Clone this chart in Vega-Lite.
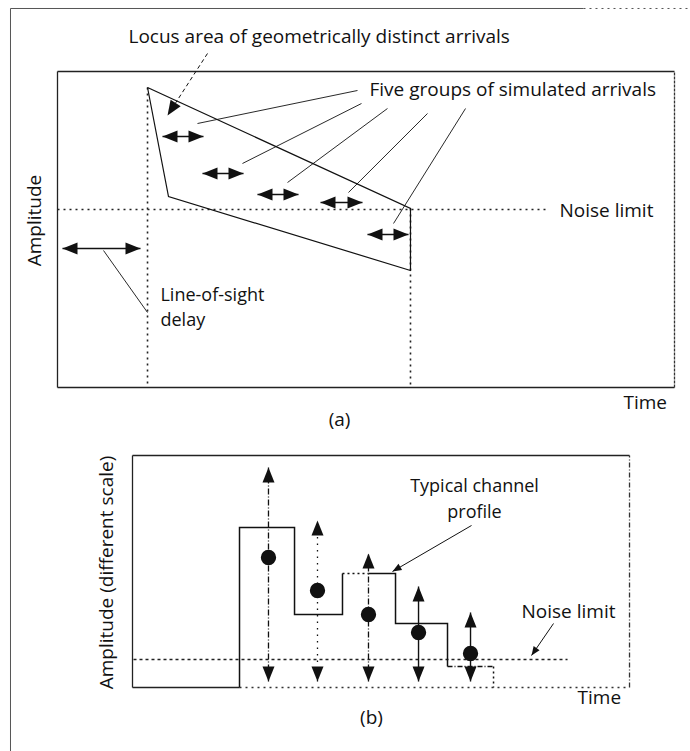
{
  "$schema": "https://vega.github.io/schema/vega-lite/v6.json",
  "padding": {"left": 9.5, "top": 7.5, "right": 0, "bottom": 0},
  "autosize": {"type": "pad"},
  "bounds": "flush",
  "spacing": 68,
  "config": {
    "view": {"stroke": null},
    "text": {"font": "Open Sans", "fontSize": 19, "color": "#111"}
  },
  "datasets": {
    "a_page": [
      {"t": -7.62, "a": 119.94, "t2": -7.62, "a2": -115.2},
      {"t": -7.62, "a": 119.94, "t2": 85.25, "a2": 119.94}
    ],
    "a_page_dotted": [{"t": 85.25, "a": 119.94, "t2": 102.59, "a2": 119.94}],
    "a_frame": [
      {"t": 0, "a": 0, "t2": 0, "a2": 100},
      {"t": 0, "a": 100, "t2": 100, "a2": 100},
      {"t": 0, "a": 0, "t2": 100, "a2": 0}
    ],
    "a_frame_dashed": [{"t": 100, "a": 0, "t2": 100, "a2": 100}],
    "a_guides": [
      {"t": 14.59, "a": 94.94, "t2": 14.59, "a2": 0},
      {"t": 57.21, "a": 56.65, "t2": 57.21, "a2": 0},
      {"t": 0, "a": 56.33, "t2": 79.58, "a2": 56.33}
    ],
    "a_locus": [
      {"i": 1, "t": 14.59, "a": 94.94},
      {"i": 2, "t": 17.99, "a": 60.44},
      {"i": 3, "t": 57.21, "a": 37.03},
      {"i": 4, "t": 57.21, "a": 56.65},
      {"i": 5, "t": 14.59, "a": 94.94}
    ],
    "a_arrows": [
      {"group": "line-of-sight", "t": 0.81, "t2": 13.45, "a": 43.99},
      {"group": "1", "t": 17.02, "t2": 23.66, "a": 79.43},
      {"group": "2", "t": 23.5, "t2": 30.15, "a": 67.72},
      {"group": "3", "t": 32.41, "t2": 39.06, "a": 61.08},
      {"group": "4", "t": 42.63, "t2": 49.43, "a": 58.54},
      {"group": "5", "t": 50.24, "t2": 56.89, "a": 48.42}
    ],
    "a_leaders": [
      {"t": 22.69, "a": 83.54, "t2": 48.62, "a2": 93.99},
      {"t": 29.98, "a": 70.89, "t2": 49.27, "a2": 89.87},
      {"t": 37.28, "a": 64.87, "t2": 53.48, "a2": 88.29},
      {"t": 47.16, "a": 61.71, "t2": 59.97, "a2": 86.71},
      {"t": 54.46, "a": 51.9, "t2": 66.13, "a2": 88.29},
      {"t": 7.46, "a": 43.35, "t2": 14.59, "a2": 23.73}
    ],
    "a_locus_leader": [{"t": 24.31, "a": 105.7, "t2": 19.14, "a2": 90.06}],
    "a_locus_head": [{"t": 17.83, "a": 86.08}],
    "a_notes": [
      {"label": "Locus area of geometrically distinct arrivals", "t": 11.51, "a": 110.76},
      {"label": "Five groups of simulated arrivals", "t": 50.57, "a": 93.99},
      {"label": "Noise limit", "t": 81.36, "a": 56.01},
      {"label": "Time", "t": 91.73, "a": -5.06}
    ],
    "a_notes_small": [
      {"label": "Line-of-sight", "t": 16.69, "a": 28.96},
      {"label": "delay", "t": 16.69, "a": 21.04}
    ],
    "b_frame": [
      {"t": 0, "a": 0, "t2": 0, "a2": 100},
      {"t": 0, "a": 100, "t2": 100, "a2": 100},
      {"t": 0, "a": 0, "t2": 21.53, "a2": 0}
    ],
    "b_frame_dashed": [{"t": 100, "a": 0, "t2": 100, "a2": 100}],
    "b_frame_dotted": [{"t": 21.53, "a": 0, "t2": 100, "a2": 0}],
    "b_noise": [{"t": 0.2, "a": 12.07, "t2": 87.53, "a2": 12.07}],
    "b_profile": [
      {"seg": 1, "i": 1, "t": 21.53, "a": 0},
      {"seg": 1, "i": 2, "t": 21.53, "a": 68.97},
      {"seg": 1, "i": 3, "t": 32.6, "a": 68.97},
      {"seg": 1, "i": 4, "t": 32.6, "a": 31.47},
      {"seg": 1, "i": 5, "t": 42.25, "a": 31.47},
      {"seg": 1, "i": 6, "t": 42.25, "a": 49.14},
      {"seg": 2, "i": 1, "t": 42.25, "a": 49.14},
      {"seg": 2, "i": 2, "t": 47.48, "a": 49.14},
      {"seg": 3, "i": 1, "t": 47.48, "a": 49.14},
      {"seg": 3, "i": 2, "t": 52.92, "a": 49.14},
      {"seg": 3, "i": 3, "t": 52.92, "a": 27.59},
      {"seg": 3, "i": 4, "t": 63.38, "a": 27.59},
      {"seg": 3, "i": 5, "t": 63.38, "a": 9.05},
      {"seg": 4, "i": 1, "t": 63.38, "a": 9.05},
      {"seg": 4, "i": 2, "t": 72.64, "a": 9.05},
      {"seg": 5, "i": 1, "t": 72.64, "a": 9.05},
      {"seg": 5, "i": 2, "t": 72.64, "a": 0}
    ],
    "b_groups": [
      {"g": 1, "t": 27.36, "a": 56.03, "lo": 2.59, "hi": 94.83},
      {"g": 2, "t": 37.22, "a": 41.81, "lo": 2.59, "hi": 71.98},
      {"g": 3, "t": 47.48, "a": 31.47, "lo": 2.59, "hi": 57.76},
      {"g": 4, "t": 57.55, "a": 23.71, "lo": 2.59, "hi": 43.53},
      {"g": 5, "t": 68.01, "a": 14.66, "lo": 2.59, "hi": 32.33}
    ],
    "b_pointers": [
      {"t": 68.21, "a": 69.83, "t2": 52.31, "a2": 50.0},
      {"t": 84.71, "a": 27.59, "t2": 80.28, "a2": 13.79}
    ],
    "b_notes_left": [
      {"label": "Noise limit", "t": 78.27, "a": 32.33},
      {"label": "Time", "t": 89.54, "a": -4.74}
    ],
    "b_notes_center": [
      {"label": "(b)", "t": 48.09, "a": -13.36}
    ],
    "b_notes_small": [
      {"label": "Typical channel", "t": 68.81, "a": 86.21},
      {"label": "profile", "t": 68.81, "a": 75.43}
    ]
  },
  "vconcat": [
    {
      "width": 617,
      "height": 316,
      "encoding": {
        "x": {"field": "t", "type": "quantitative", "scale": {"domain": [0, 100], "nice": false, "zero": false}, "axis": null},
        "y": {"field": "a", "type": "quantitative", "scale": {"domain": [0, 100], "nice": false, "zero": false}, "axis": null}
      },
      "layer": [
        {"data": {"name": "a_page"}, "mark": {"type": "rule", "strokeWidth": 1, "color": "#555"}, "encoding": {"x2": {"field": "t2"}, "y2": {"field": "a2"}}},
        {"data": {"name": "a_page_dotted"}, "mark": {"type": "rule", "strokeWidth": 1, "color": "#555", "strokeDash": [2, 4]}, "encoding": {"x2": {"field": "t2"}, "y2": {"field": "a2"}}},
        {"data": {"name": "a_frame"}, "mark": {"type": "rule", "strokeWidth": 1.3, "color": "#222"}, "encoding": {"x2": {"field": "t2"}, "y2": {"field": "a2"}}},
        {"data": {"name": "a_frame_dashed"}, "mark": {"type": "rule", "strokeWidth": 1.3, "color": "#333", "strokeDash": [3, 1]}, "encoding": {"x2": {"field": "t2"}, "y2": {"field": "a2"}}},
        {"data": {"name": "a_guides"}, "mark": {"type": "rule", "strokeWidth": 1.6, "color": "#222", "strokeDash": [2, 4]}, "encoding": {"x2": {"field": "t2"}, "y2": {"field": "a2"}}},
        {"data": {"name": "a_locus"}, "mark": {"type": "line", "strokeWidth": 1.2, "color": "#111"}, "encoding": {"order": {"field": "i", "type": "quantitative"}}},
        {"data": {"name": "a_arrows"}, "mark": {"type": "rule", "strokeWidth": 1.6, "color": "#111"}, "encoding": {"x2": {"field": "t2"}}},
        {"data": {"name": "a_arrows"}, "mark": {"type": "point", "shape": "M0,0L-2,-0.8L-2,0.8Z", "size": 225, "filled": true, "opacity": 1, "color": "#111", "angle": 180}},
        {"data": {"name": "a_arrows"}, "mark": {"type": "point", "shape": "M0,0L-2,-0.8L-2,0.8Z", "size": 225, "filled": true, "opacity": 1, "color": "#111", "angle": 0},
          "encoding": {"x": {"field": "t2", "type": "quantitative", "scale": {"domain": [0, 100], "nice": false, "zero": false}, "axis": null}}},
        {"data": {"name": "a_leaders"}, "mark": {"type": "rule", "strokeWidth": 0.9, "color": "#111"}, "encoding": {"x2": {"field": "t2"}, "y2": {"field": "a2"}}},
        {"data": {"name": "a_locus_leader"}, "mark": {"type": "rule", "strokeWidth": 1, "color": "#111", "strokeDash": [4, 3]}, "encoding": {"x2": {"field": "t2"}, "y2": {"field": "a2"}}},
        {"data": {"name": "a_locus_head"}, "mark": {"type": "point", "shape": "M0,0L-2,-0.8L-2,0.8Z", "size": 225, "filled": true, "opacity": 1, "color": "#111", "angle": 122.8}},
        {"data": {"name": "a_notes"}, "mark": {"type": "text", "align": "left", "baseline": "middle"}, "encoding": {"text": {"field": "label"}}},
        {"data": {"name": "a_notes_small"}, "mark": {"type": "text", "align": "left", "baseline": "middle", "fontSize": 18}, "encoding": {"text": {"field": "label"}}},
        {"data": {"values": [{"label": "(a)", "t": 45.71, "a": -10.44}]}, "mark": {"type": "text", "align": "center", "baseline": "middle"}, "encoding": {"text": {"field": "label"}}},
        {"data": {"values": [{"label": "Amplitude", "t": -3.57, "a": 52.85}]}, "mark": {"type": "text", "align": "center", "baseline": "middle", "angle": 270}, "encoding": {"text": {"field": "label"}}}
      ]
    },
    {
      "width": 617,
      "height": 232,
      "encoding": {
        "x": {"field": "t", "type": "quantitative", "scale": {"domain": [-15.09, 109.05], "nice": false, "zero": false}, "axis": null},
        "y": {"field": "a", "type": "quantitative", "scale": {"domain": [0, 100], "nice": false, "zero": false}, "axis": null}
      },
      "layer": [
        {"data": {"name": "b_frame"}, "mark": {"type": "rule", "strokeWidth": 1.3, "color": "#222"}, "encoding": {"x2": {"field": "t2"}, "y2": {"field": "a2"}}},
        {"data": {"name": "b_frame_dashed"}, "mark": {"type": "rule", "strokeWidth": 1.3, "color": "#333", "strokeDash": [5, 2, 1, 2]}, "encoding": {"x2": {"field": "t2"}, "y2": {"field": "a2"}}},
        {"data": {"name": "b_frame_dotted"}, "mark": {"type": "rule", "strokeWidth": 1.3, "color": "#333", "strokeDash": [2, 4]}, "encoding": {"x2": {"field": "t2"}, "y2": {"field": "a2"}}},
        {"data": {"name": "b_noise"}, "mark": {"type": "rule", "strokeWidth": 1.4, "color": "#222", "strokeDash": [3, 3]}, "encoding": {"x2": {"field": "t2"}, "y2": {"field": "a2"}}},
        {"data": {"name": "b_profile"}, "transform": [{"filter": "datum.seg == 1 || datum.seg == 3"}], "mark": {"type": "line", "strokeWidth": 1.5, "color": "#111"}, "encoding": {"detail": {"field": "seg", "type": "nominal"}, "order": {"field": "i", "type": "quantitative"}}},
        {"data": {"name": "b_profile"}, "transform": [{"filter": "datum.seg == 2 || datum.seg == 5"}], "mark": {"type": "line", "strokeWidth": 1.5, "color": "#111", "strokeDash": [2, 3]}, "encoding": {"detail": {"field": "seg", "type": "nominal"}, "order": {"field": "i", "type": "quantitative"}}},
        {"data": {"name": "b_profile"}, "transform": [{"filter": "datum.seg == 4"}], "mark": {"type": "line", "strokeWidth": 1.5, "color": "#111", "strokeDash": [5, 2, 1, 2]}, "encoding": {"detail": {"field": "seg", "type": "nominal"}, "order": {"field": "i", "type": "quantitative"}}},
        {"data": {"name": "b_groups"}, "transform": [{"filter": "datum.g == 1 || datum.g == 3"}], "mark": {"type": "rule", "strokeWidth": 1.3, "color": "#111", "strokeDash": [6, 2, 1, 2]},
          "encoding": {"y": {"field": "lo", "type": "quantitative", "scale": {"domain": [0, 100], "nice": false, "zero": false}, "axis": null}, "y2": {"field": "hi"}}},
        {"data": {"name": "b_groups"}, "transform": [{"filter": "datum.g == 2"}], "mark": {"type": "rule", "strokeWidth": 1.3, "color": "#111", "strokeDash": [1.5, 5]},
          "encoding": {"y": {"field": "lo", "type": "quantitative", "scale": {"domain": [0, 100], "nice": false, "zero": false}, "axis": null}, "y2": {"field": "hi"}}},
        {"data": {"name": "b_groups"}, "transform": [{"filter": "datum.g >= 4"}], "mark": {"type": "rule", "strokeWidth": 1.4, "color": "#111"},
          "encoding": {"y": {"field": "lo", "type": "quantitative", "scale": {"domain": [0, 100], "nice": false, "zero": false}, "axis": null}, "y2": {"field": "hi"}}},
        {"data": {"name": "b_groups"}, "mark": {"type": "point", "shape": "M0,0L-2,-0.8L-2,0.8Z", "size": 225, "filled": true, "opacity": 1, "color": "#111", "angle": 270},
          "encoding": {"y": {"field": "hi", "type": "quantitative", "scale": {"domain": [0, 100], "nice": false, "zero": false}, "axis": null}}},
        {"data": {"name": "b_groups"}, "mark": {"type": "point", "shape": "M0,0L-2,-0.8L-2,0.8Z", "size": 225, "filled": true, "opacity": 1, "color": "#111", "angle": 90},
          "encoding": {"y": {"field": "lo", "type": "quantitative", "scale": {"domain": [0, 100], "nice": false, "zero": false}, "axis": null}}},
        {"data": {"name": "b_groups"}, "mark": {"type": "point", "shape": "circle", "size": 235, "filled": true, "opacity": 1, "color": "#111"}},
        {"data": {"name": "b_pointers"}, "mark": {"type": "rule", "strokeWidth": 1, "color": "#111"}, "encoding": {"x2": {"field": "t2"}, "y2": {"field": "a2"}}},
        {"data": {"values": [{"t": 52.31, "a": 50.0}]}, "mark": {"type": "point", "shape": "M0,0L-2,-0.8L-2,0.8Z", "size": 81, "filled": true, "opacity": 1, "color": "#111", "angle": 149.8}},
        {"data": {"values": [{"t": 80.28, "a": 13.79}]}, "mark": {"type": "point", "shape": "M0,0L-2,-0.8L-2,0.8Z", "size": 81, "filled": true, "opacity": 1, "color": "#111", "angle": 124.5}},
        {"data": {"name": "b_notes_left"}, "mark": {"type": "text", "align": "left", "baseline": "middle"}, "encoding": {"text": {"field": "label"}}},
        {"data": {"name": "b_notes_center"}, "mark": {"type": "text", "align": "center", "baseline": "middle"}, "encoding": {"text": {"field": "label"}}},
        {"data": {"name": "b_notes_small"}, "mark": {"type": "text", "align": "center", "baseline": "middle", "fontSize": 18}, "encoding": {"text": {"field": "label"}}},
        {"data": {"values": [{"label": "Amplitude (different scale)", "t": -5.23, "a": 49.57}]}, "mark": {"type": "text", "align": "center", "baseline": "middle", "angle": 270}, "encoding": {"text": {"field": "label"}}}
      ]
    }
  ]
}
